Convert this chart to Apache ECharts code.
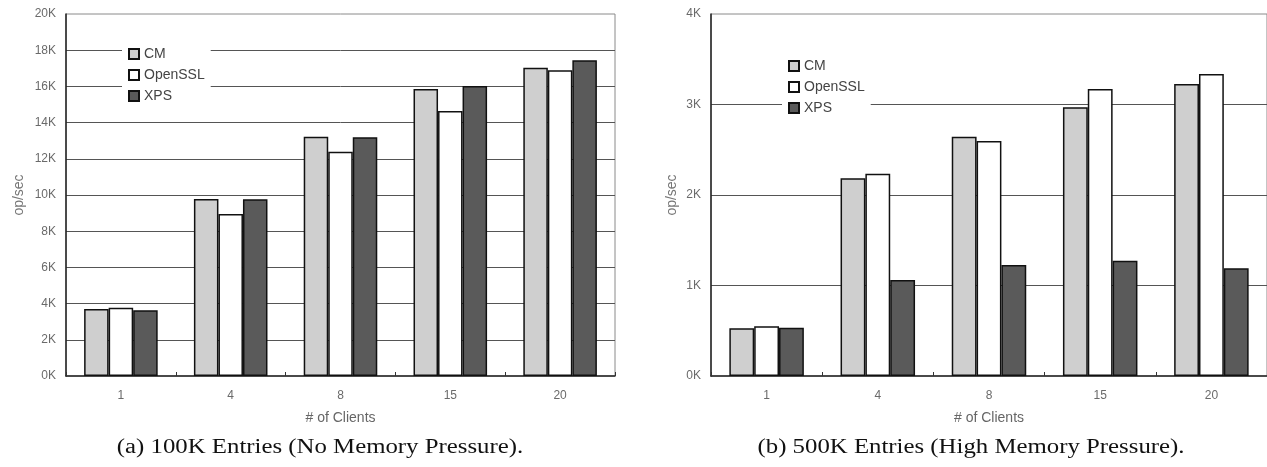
<!DOCTYPE html>
<html>
<head>
<meta charset="utf-8">
<script src="https://cdn.jsdelivr.net/npm/echarts@6/dist/echarts.min.js"></script>
<style>
html,body{margin:0;padding:0;background:#fff;}
#c{width:1267px;height:467px;}
</style>
</head>
<body>
<div id="c"></div>
<script>
const categories = ['1', '4', '8', '15', '20'];
const seriesNames = ['CM', 'OpenSSL', 'XPS'];
// (a) 100K entries, op/sec
const cmA      = [3700, 9780, 13220, 15860, 17030];
const opensslA = [3770, 8950, 12390, 14640, 16890];
const xpsA     = [3630, 9760, 13190, 16020, 17440];
// (b) 500K entries, op/sec
const cmB      = [527, 2185, 2644, 2969, 3227];
const opensslB = [549, 2235, 2597, 3171, 3337];
const xpsB     = [534, 1061, 1227, 1274, 1190];
const captionA = '(a) 100K Entries (No Memory Pressure).';
const captionB = '(b) 500K Entries (High Memory Pressure).';
const yNameText = 'op/sec';
const xNameText = '# of Clients';

const SANS = '"Liberation Sans", Arial, sans-serif';
const SERIF = '"Liberation Serif", "Times New Roman", serif';
const fills = { CM: '#cfcfcf', OpenSSL: '#ffffff', XPS: '#5a5a5a' };

function kFmt(v) { return (v / 1000) + 'K'; }

function xAxis(gi) {
  return {
    type: 'category', gridIndex: gi, data: categories,
    name: xNameText, nameLocation: 'middle', nameGap: 35,
    nameTextStyle: { fontFamily: SANS, fontSize: 14, color: '#666' },
    axisLine: { lineStyle: { color: '#222', width: 1.5 } },
    axisTick: { show: true, inside: true, length: 4, alignWithLabel: false, lineStyle: { color: '#333' } },
    axisLabel: { fontFamily: SANS, fontSize: 12, color: '#6a6a6a', margin: 14 },
    splitLine: { show: false }
  };
}
function yAxis(gi, max, interval, gap) {
  return {
    type: 'value', gridIndex: gi, min: 0, max: max, interval: interval,
    name: yNameText, nameLocation: 'middle', nameGap: gap,
    nameTextStyle: { fontFamily: SANS, fontSize: 14, color: '#777' },
    axisLine: { show: true, lineStyle: { color: '#222', width: 1.5 } },
    axisTick: { show: false },
    axisLabel: { fontFamily: SANS, fontSize: 12, color: '#6a6a6a', margin: 10, formatter: kFmt },
    splitLine: { show: true, showMinLine: false, showMaxLine: false, lineStyle: { color: '#555', width: 1 } }
  };
}
function bar(name, data, gi) {
  return {
    type: 'bar', name: name, data: data, xAxisIndex: gi, yAxisIndex: gi,
    barGap: '0%', barCategoryGap: '33%',
    itemStyle: { color: fills[name], borderColor: '#111', borderWidth: 1.5 },
    emphasis: { disabled: true }, animation: false
  };
}
function legend(left, top) {
  return {
    orient: 'vertical', left: left, top: top, data: seriesNames,
    backgroundColor: '#fff', padding: [5, 6, 5, 6],
    icon: 'rect', itemWidth: 10, itemHeight: 10, itemGap: 7,
    textStyle: { fontFamily: SANS, fontSize: 14, color: '#444' },
    selectedMode: false
  };
}

const chart = echarts.init(document.getElementById('c'), null, { renderer: 'canvas' });
chart.setOption({
  backgroundColor: '#fff',
  animation: false,
  grid: [
    { left: 66, top: 14, width: 549, height: 362, show: true, borderColor: '#8a8a8a', borderWidth: 1, backgroundColor: 'transparent' },
    { left: 711, top: 14, width: 560, height: 362, show: true, borderColor: '#8a8a8a', borderWidth: 1, backgroundColor: 'transparent' }
  ],
  xAxis: [xAxis(0), xAxis(1)],
  yAxis: [yAxis(0, 20000, 2000, 40), yAxis(1, 4000, 1000, 32)],
  legend: [legend(122, 42), legend(782, 54)],
  series: [
    bar('CM', cmA, 0), bar('OpenSSL', opensslA, 0), bar('XPS', xpsA, 0),
    bar('CM', cmB, 1), bar('OpenSSL', opensslB, 1), bar('XPS', xpsB, 1)
  ],
  graphic: [
    { type: 'text', x: 320, y: 448, scaleX: 1.24, silent: true,
      style: { text: captionA, font: '20px ' + SERIF, fill: '#111', textAlign: 'center', textVerticalAlign: 'middle' } },
    { type: 'text', x: 971, y: 448, scaleX: 1.24, silent: true,
      style: { text: captionB, font: '20px ' + SERIF, fill: '#111', textAlign: 'center', textVerticalAlign: 'middle' } }
  ]
});
</script>
</body>
</html>
